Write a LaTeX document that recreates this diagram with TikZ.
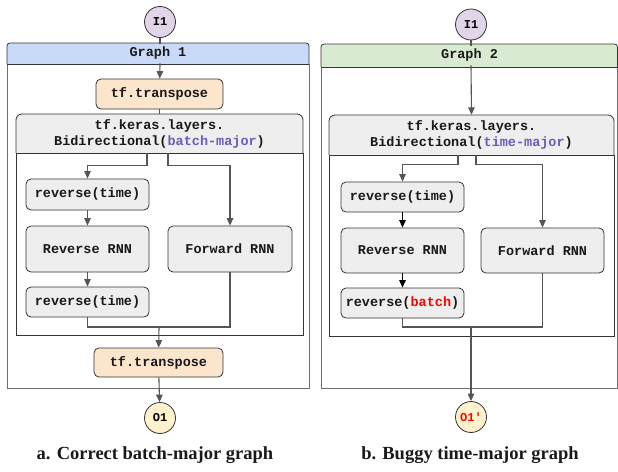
\documentclass[tikz,border=0pt]{standalone}
\usepackage{fontspec}
\setmonofont{Liberation Mono}
\newfontfamily\capfont{Liberation Serif}
\usetikzlibrary{arrows.meta}

\definecolor{linec}{HTML}{555555}
\definecolor{edgec}{HTML}{333333}
\definecolor{framec}{HTML}{6E6E6E}
\definecolor{blueh}{HTML}{C9DAF8}
\definecolor{greenh}{HTML}{D9EAD3}
\definecolor{peach}{HTML}{FCE5CD}
\definecolor{lavender}{HTML}{E1D5E7}
\definecolor{cream}{HTML}{FFF2CC}
\definecolor{boxgray}{HTML}{EEEEEE}
\definecolor{argpurple}{HTML}{6D5BBF}
\definecolor{bugred}{HTML}{FF0000}

\tikzset{
  codefont/.style={font=\ttfamily\bfseries\fontsize{13.5}{16}\selectfont, text=black!90},
  opbox/.style={codefont, draw=edgec, line width=0.8pt, fill=boxgray,
    rounded corners=5pt, inner sep=0pt, minimum width=123pt},
  tpbox/.style={opbox, fill=peach},
  terminal/.style={circle, draw=edgec, line width=0.8pt, minimum size=31pt,
    inner sep=0pt, font=\ttfamily\bfseries\fontsize{12}{12}\selectfont},
  link/.style={draw=linec, line width=1.1pt},
  flow/.style={link, -{Triangle[width=6.5pt,length=7.5pt]}},
  darkflow/.style={flow, draw=black},
  caption/.style={font=\capfont\bfseries\fontsize{18.5}{22}\selectfont, text=black!90},
}

\begin{document}
\begin{tikzpicture}[x=1pt, y=-1pt]
\useasboundingbox (0,0) rectangle (618,471);

% ---------------- Graph 1 frame ----------------
\fill[blueh, rounded corners=3pt] (7,64) -- (7,43) -- (309,43) -- (309,64) -- cycle;
\fill[blueh] (7,55) rectangle (309,64);
\draw[framec, line width=0.8pt] (7,64) -- (7,388) -- (309,388) -- (309,64);
\draw[edgec, line width=0.8pt, rounded corners=3pt] (7,64) -- (7,43) -- (309,43) -- (309,64);
\draw[edgec, line width=0.8pt] (7,64) -- (309,64);
\node[codefont] (g1) at (158,53.5) {Graph 1};

% Bidirectional wrapper 1
\fill[white] (16,153) rectangle (303,335);
\draw[edgec, line width=0.8pt] (16,153) rectangle (303,335);
\fill[boxgray, rounded corners=6pt] (16,153) -- (16,114) -- (303,114) -- (303,153) -- cycle;
\fill[boxgray] (16,140) rectangle (303,153);
\draw[edgec, line width=0.8pt, rounded corners=6pt] (16,153) -- (16,114) -- (303,114) -- (303,153);
\draw[edgec, line width=0.8pt] (16,153) -- (303,153);
\node[codefont, align=center, inner sep=0pt, minimum height=39pt, minimum width=287pt]
  (bd1) at (159.5,133.5)
  {tf.keras.layers.\\Bidirectional(\textcolor{argpurple}{batch-major})};

% ---------------- Graph 2 frame ----------------
\fill[greenh, rounded corners=3pt] (321,67) -- (321,44) -- (617.5,44) -- (617.5,67) -- cycle;
\fill[greenh] (321,56) rectangle (617.5,67);
\draw[framec, line width=0.8pt] (321,67) -- (321,388) -- (617.5,388) -- (617.5,67);
\draw[edgec, line width=0.8pt, rounded corners=3pt] (321,67) -- (321,44) -- (617.5,44) -- (617.5,67);
\draw[edgec, line width=0.8pt] (321,67) -- (617.5,67);
\node[codefont] (g2) at (469.5,55.5) {Graph 2};

% Bidirectional wrapper 2
\fill[white] (329,155) rectangle (614,336);
\draw[edgec, line width=0.8pt] (329,155) rectangle (614,336);
\fill[boxgray, rounded corners=6pt] (329,155) -- (329,115) -- (614,115) -- (614,155) -- cycle;
\fill[boxgray] (329,142) rectangle (614,155);
\draw[edgec, line width=0.8pt, rounded corners=6pt] (329,155) -- (329,115) -- (614,115) -- (614,155);
\draw[edgec, line width=0.8pt] (329,155) -- (614,155);
\node[codefont, align=center, inner sep=0pt, minimum height=40pt, minimum width=285pt]
  (bd2) at (471.5,135)
  {tf.keras.layers.\\Bidirectional(\textcolor{argpurple}{time-major})};

% ---------------- nodes of graph 1 ----------------
\node[terminal, fill=lavender] (in1) at (160,22) {I1};
\node[tpbox, minimum width=127pt, minimum height=30pt] (tp1) at (159.5,94) {tf.transpose};
\node[opbox, minimum height=31pt] (rt1) at (87.5,194.5) {reverse(time)};
\node[opbox, minimum height=46pt] (rr1) at (87.5,249) {Reverse RNN};
\node[opbox, minimum height=30pt] (rb1) at (87.5,302) {reverse(time)};
\node[opbox, minimum width=124pt, minimum height=46pt] (fw1) at (230,249) {Forward RNN};
\node[tpbox, minimum width=129pt, minimum height=29pt] (tp2) at (158.5,362.5) {tf.transpose};
\node[terminal, fill=cream] (out1) at (160,418) {O1};
\coordinate (j1) at (159,327);

% ---------------- nodes of graph 2 ----------------
\node[terminal, fill=lavender] (in2) at (471,24.5) {I1};
\node[opbox, minimum height=30pt] (rt2) at (402.5,197) {reverse(time)};
\node[opbox, minimum height=45pt] (rr2) at (402.5,250.5) {Reverse RNN};
\node[opbox, minimum height=30pt] (rb2) at (402.5,303) {reverse(\textcolor{bugred}{batch})};
\node[opbox, minimum height=45pt] (fw2) at (542.5,250.5) {Forward RNN};
\node[terminal, fill=cream, text=bugred] (out2) at (471,417) {O1′};
\coordinate (j2) at (471,327);

% ---------------- connectors of graph 1 ----------------
\draw[link] (in1) -- (in1 |- g1.north);
\draw[flow] (in1 |- g1.south) -- (tp1);
\draw[link] (tp1) -- (tp1 |- bd1.north);
\draw[flow] ([xshift=-12.5pt]bd1.south) |- ++(0,12) -| (rt1.north);
\draw[flow] ([xshift=8.5pt]bd1.south) |- ++(0,12) -| (fw1.north);
\draw[flow] (rt1) -- (rr1);
\draw[flow] (rr1) -- (rb1);
\draw[link] (rb1.south) |- (j1) -| (fw1.south);
\draw[flow] (j1) -- (tp2);
\draw[flow] (tp2) -- (out1);

% ---------------- connectors of graph 2 ----------------
\draw[link] (in2) -- (in2 |- g2.north);
\draw[flow] (in2 |- g2.south) -- (bd2.north);
\draw[flow] ([xshift=-13.5pt]bd2.south) |- ++(0,9) -| (rt2.north);
\draw[flow] ([xshift=4.5pt]bd2.south) |- ++(0,9) -| (fw2.north);
\draw[darkflow] (rt2) -- (rr2);
\draw[darkflow] (rr2) -- (rb2);
\draw[link] (rb2.south) |- (j2) -| (fw2.south);
\draw[flow] (j2) -- (out2);

% ---------------- captions ----------------
\node[caption] (cap1) at (155,455) {a. Correct batch-major graph};
\node[caption] (cap2) at (470,455) {b. Buggy time-major graph};
\end{tikzpicture}
\end{document}
